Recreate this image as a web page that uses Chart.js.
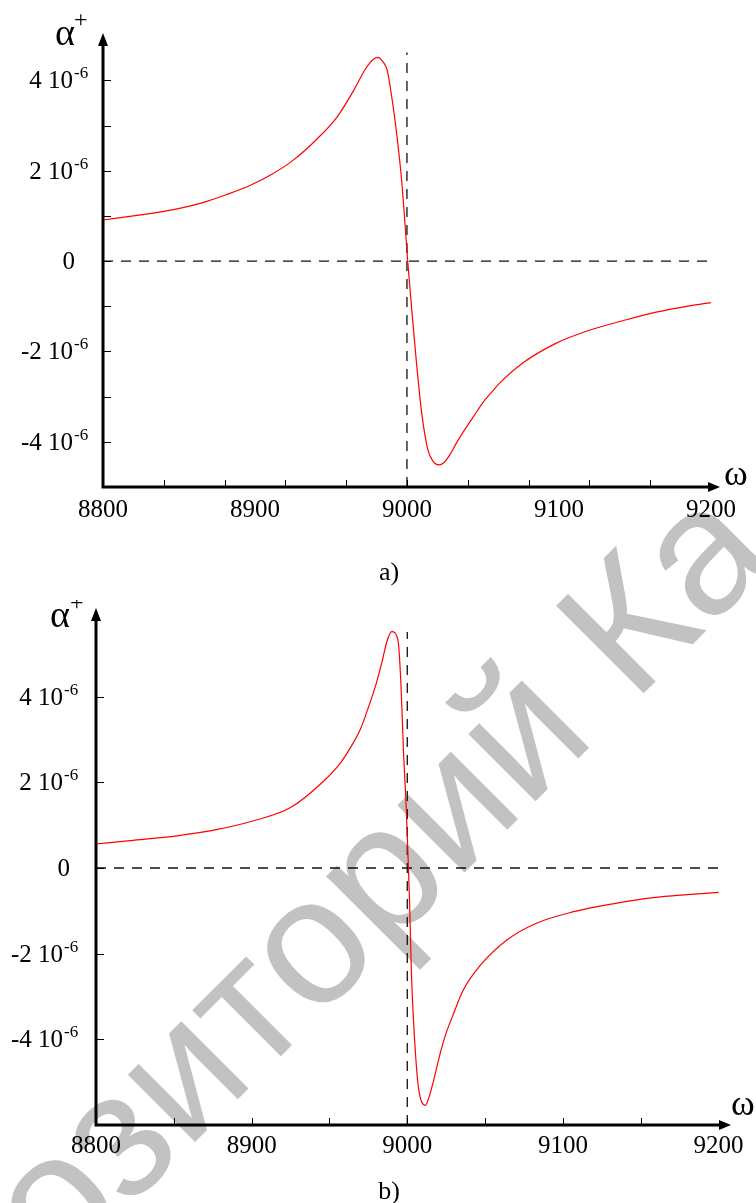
<!DOCTYPE html>
<html>
<head>
<meta charset="utf-8">
<script src="https://cdn.jsdelivr.net/npm/chart.js@4.4.0/dist/chart.umd.min.js"></script>
<style>
  html, body { margin: 0; padding: 0; background: #fff; }
  body { width: 756px; height: 1203px; position: relative; overflow: hidden; }
  canvas { position: absolute; left: 0; }
  #chartA { top: 0; }
  #chartB { top: 600px; }
  #watermark {
    position: absolute; left: -268px; top: 1390px;
    transform-origin: 0 0; transform: rotate(-45deg);
    font: 180px "Liberation Sans", sans-serif; line-height: 1;
    color: #c2c2c2; white-space: nowrap;
  }
</style>
</head>
<body>
<div id="watermark">Репозиторий Ка</div>
<canvas id="chartA" width="756" height="600"></canvas>
<canvas id="chartB" width="756" height="603"></canvas>
<script>

// a)
const omegaA = [8800, 8820, 8840, 8864, 8881, 8897, 8912, 8925, 8941, 8954, 8965, 8973, 8978, 8981, 8984, 8987,
  8991, 8994, 8996.5, 8998.7, 9000.5, 9003, 9006.3, 9009.7, 9013.8, 9017, 9021, 9024, 9028, 9033, 9039, 9044,
  9050, 9057, 9061, 9076, 9098, 9120, 9142, 9164, 9186, 9200];
const alphaA = [0.91, 1.0, 1.1, 1.28, 1.47, 1.68, 1.94, 2.23, 2.71, 3.19, 3.78, 4.27, 4.47, 4.51, 4.42, 4.23,
  3.40, 2.60, 1.79, 0.84, 0, -1.01, -2.26, -3.36, -4.18, -4.42, -4.51, -4.47, -4.30, -4.00, -3.68, -3.43,
  -3.13, -2.85, -2.70, -2.26, -1.82, -1.53, -1.32, -1.13, -0.99, -0.92];

// b)
const omegaB = [8800, 8822, 8852, 8878, 8903, 8925, 8946, 8957, 8963, 8970, 8975, 8980, 8984, 8987, 8990,
  8994, 8996, 8997.6, 8999.2, 9000.4, 9001.5, 9002.6, 9004, 9006.6, 9008.4, 9011.6, 9014, 9017, 9021, 9025,
  9029, 9036, 9047, 9064, 9083, 9107, 9133, 9158, 9180, 9200];
const alphaB = [0.56, 0.64, 0.75, 0.90, 1.12, 1.41, 2.02, 2.45, 2.78, 3.25, 3.75, 4.30, 4.85, 5.30, 5.52,
  5.33, 4.24, 2.68, 1.52, 0.35, -0.82, -2.38, -3.55, -4.95, -5.37, -5.54, -5.35, -4.95, -4.35, -3.85,
  -3.47, -2.85, -2.27, -1.68, -1.29, -1.02, -0.83, -0.69, -0.62, -0.57];

const xLabels = [8800, 8900, 9000, 9100, 9200];
const yLabels = [4, 2, 0, -2, -4];

const serif = '"Liberation Serif", "Times New Roman", serif';

const axesPlugin = {
  id: "axesArrows",
  afterDraw(chart, args, o) {
    const { ctx, chartArea: { left, right, top, bottom }, scales: { x, y } } = chart;
    ctx.save();
    ctx.strokeStyle = "#000";
    ctx.fillStyle = "#000";

    // small ticks pointing inside
    ctx.lineWidth = 1;
    ctx.beginPath();
    for (let v = 8800 + o.xStep; v < 9200; v += o.xStep) {
      const px = Math.round(x.getPixelForValue(v)) + 0.5;
      ctx.moveTo(px, bottom);
      ctx.lineTo(px, bottom - 7);
    }
    for (let v = -4; v <= 4; v += o.yStep) {
      const py = Math.round(y.getPixelForValue(v)) + 0.5;
      ctx.moveTo(left, py);
      ctx.lineTo(left + 8, py);
    }
    ctx.stroke();

    // axes with arrows
    ctx.lineWidth = 3;
    ctx.beginPath();
    ctx.moveTo(left, bottom + 1.5);
    ctx.lineTo(left, top + 8);
    ctx.moveTo(left - 1.5, bottom);
    ctx.lineTo(right - 8, bottom);
    ctx.stroke();
    ctx.beginPath();
    ctx.moveTo(left, top);
    ctx.lineTo(left - 5, top + 13);
    ctx.lineTo(left + 5, top + 13);
    ctx.closePath();
    ctx.moveTo(right, bottom);
    ctx.lineTo(right - 12, bottom - 5);
    ctx.lineTo(right - 12, bottom + 5);
    ctx.closePath();
    ctx.fill();

    // x labels
    ctx.font = "25px " + serif;
    ctx.textAlign = "center";
    ctx.textBaseline = "middle";
    xLabels.forEach((v) => {
      ctx.fillText(String(v), x.getPixelForValue(v), bottom + o.xLabelDy);
    });

    // y labels: "4 10" with superscript "-6"
    ctx.textBaseline = "alphabetic";
    yLabels.forEach((v) => {
      const py = y.getPixelForValue(v) + 8;
      ctx.font = "25px " + serif;
      ctx.textAlign = "right";
      if (v === 0) {
        ctx.fillText("0", left - o.zeroDx, py);
        return;
      }
      ctx.fillText(v + " 10", left - o.labelDx, py);
      ctx.font = "17px " + serif;
      ctx.textAlign = "left";
      ctx.fillText("-6", left - o.labelDx + 1, py - 10);
    });

    // axis names
    ctx.textAlign = "left";
    ctx.font = "38px " + serif;
    ctx.fillText("α", left + o.alpha[0], top + o.alpha[1]);
    ctx.font = "24px " + serif;
    ctx.fillText("+", left + o.plus[0], top + o.plus[1]);
    ctx.font = "36px " + serif;
    ctx.fillText("ω", right + o.omega[0], bottom + o.omega[1]);

    // caption
    ctx.font = "26px " + serif;
    ctx.textAlign = "center";
    ctx.textBaseline = "middle";
    ctx.fillText(o.caption, 389, o.captionY);
    ctx.restore();
  },
};

const makeChart = (id, omega, alpha, s) => {
  const dashStyle = {
    borderColor: "#111",
    borderWidth: 1.3,
    borderDash: [10, 8],
    pointRadius: 0,
  };
  const config = {
    type: "line",
    data: {
      datasets: [
        {
          data: omega.map((w, i) => ({ x: w, y: alpha[i] })),
          borderColor: "#ff0000",
          borderWidth: 1.2,
          pointRadius: 0,
          cubicInterpolationMode: "monotone",
        },
        { ...dashStyle, data: [{ x: 8800, y: 0 }, { x: 9200, y: 0 }] },
        { ...dashStyle, data: [{ x: 9000, y: s.yMin }, { x: 9000, y: s.vTop }] },
      ],
    },
    options: {
      responsive: false,
      animation: false,
      layout: { padding: s.padding },
      scales: {
        x: { type: "linear", min: 8800, max: s.xMax, display: false },
        y: { type: "linear", min: s.yMin, max: s.yMax, display: false },
      },
      plugins: {
        legend: { display: false },
        tooltip: { enabled: false },
        axesArrows: s.axes,
      },
    },
    plugins: [axesPlugin],
  };
  new Chart(document.getElementById(id), config);
};

makeChart("chartA", omegaA, alphaA, {
  padding: { left: 103, right: 36, top: 33, bottom: 113 },
  xMax: 9206, yMin: -5, yMax: 5.05, vTop: 4.62,
  axes: {
    xStep: 40, yStep: 1, xLabelDy: 23, labelDx: 30, zeroDx: 28,
    alpha: [-48, 12], plus: [-29, -6], omega: [4, -2],
    caption: "a)", captionY: 573,
  },
});

makeChart("chartB", omegaB, alphaB, {
  padding: { left: 96, right: 25, top: 8, bottom: 78 },
  xMax: 9208, yMin: -6, yMax: 6.07, vTop: 5.51,
  axes: {
    xStep: 50, yStep: 2, xLabelDy: 21, labelDx: 33, zeroDx: 26,
    alpha: [-46, 19], plus: [-26, 2], omega: [0, -10],
    caption: "b)", captionY: 592,
  },
});
</script>
</body>
</html>
